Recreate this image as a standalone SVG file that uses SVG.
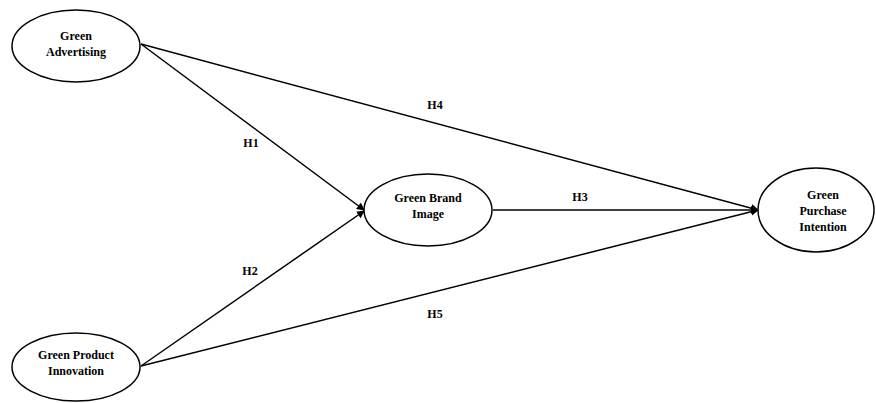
<svg xmlns="http://www.w3.org/2000/svg" width="876" height="403" viewBox="0 0 876 403">
<style>
.n{fill:#fff;stroke:#000;stroke-width:1.5}
.t{font-family:'Liberation Serif','DejaVu Serif',serif;font-weight:bold;font-size:12px;text-anchor:middle;fill:#000}
.c{stroke:#000;stroke-width:1.5;fill:none;marker-end:url(#ah)}
</style>
<defs>
<marker id="ah" markerWidth="8" markerHeight="8" refX="7" refY="4" orient="auto" markerUnits="userSpaceOnUse">
<path d="M0,0 L8,4 L0,8 Z" fill="#000"/>
</marker>
</defs>
<rect width="876" height="403" fill="#fff"/>
<g id="connectors">
<line class="c" x1="141" y1="44" x2="364" y2="210"/>
<line class="c" x1="141" y1="366" x2="364" y2="211"/>
<line class="c" x1="141" y1="44" x2="758" y2="210"/>
<line class="c" x1="493" y1="210" x2="758" y2="210"/>
<line class="c" x1="141" y1="366" x2="758" y2="210"/>
<text class="t" x="251" y="147">H1</text>
<text class="t" x="250" y="275">H2</text>
<text class="t" x="580" y="201">H3</text>
<text class="t" x="435" y="109">H4</text>
<text class="t" x="435" y="318">H5</text>
</g>
<g id="green-advertising">
<ellipse class="n" cx="76" cy="46" rx="64" ry="36"/>
<text class="t" x="76" y="40">Green</text>
<text class="t" x="76" y="56">Advertising</text>
</g>
<g id="green-product-innovation">
<ellipse class="n" cx="76" cy="367" rx="64" ry="34"/>
<text class="t" x="76" y="359">Green Product</text>
<text class="t" x="76" y="375">Innovation</text>
</g>
<g id="green-brand-image">
<ellipse class="n" cx="428" cy="210" rx="64" ry="36"/>
<text class="t" x="428" y="202">Green Brand</text>
<text class="t" x="428" y="218">Image</text>
</g>
<g id="green-purchase-intention">
<ellipse class="n" cx="816" cy="210" rx="58" ry="42"/>
<text class="t" x="823" y="199">Green</text>
<text class="t" x="823" y="215">Purchase</text>
<text class="t" x="823" y="231">Intention</text>
</g>
</svg>
